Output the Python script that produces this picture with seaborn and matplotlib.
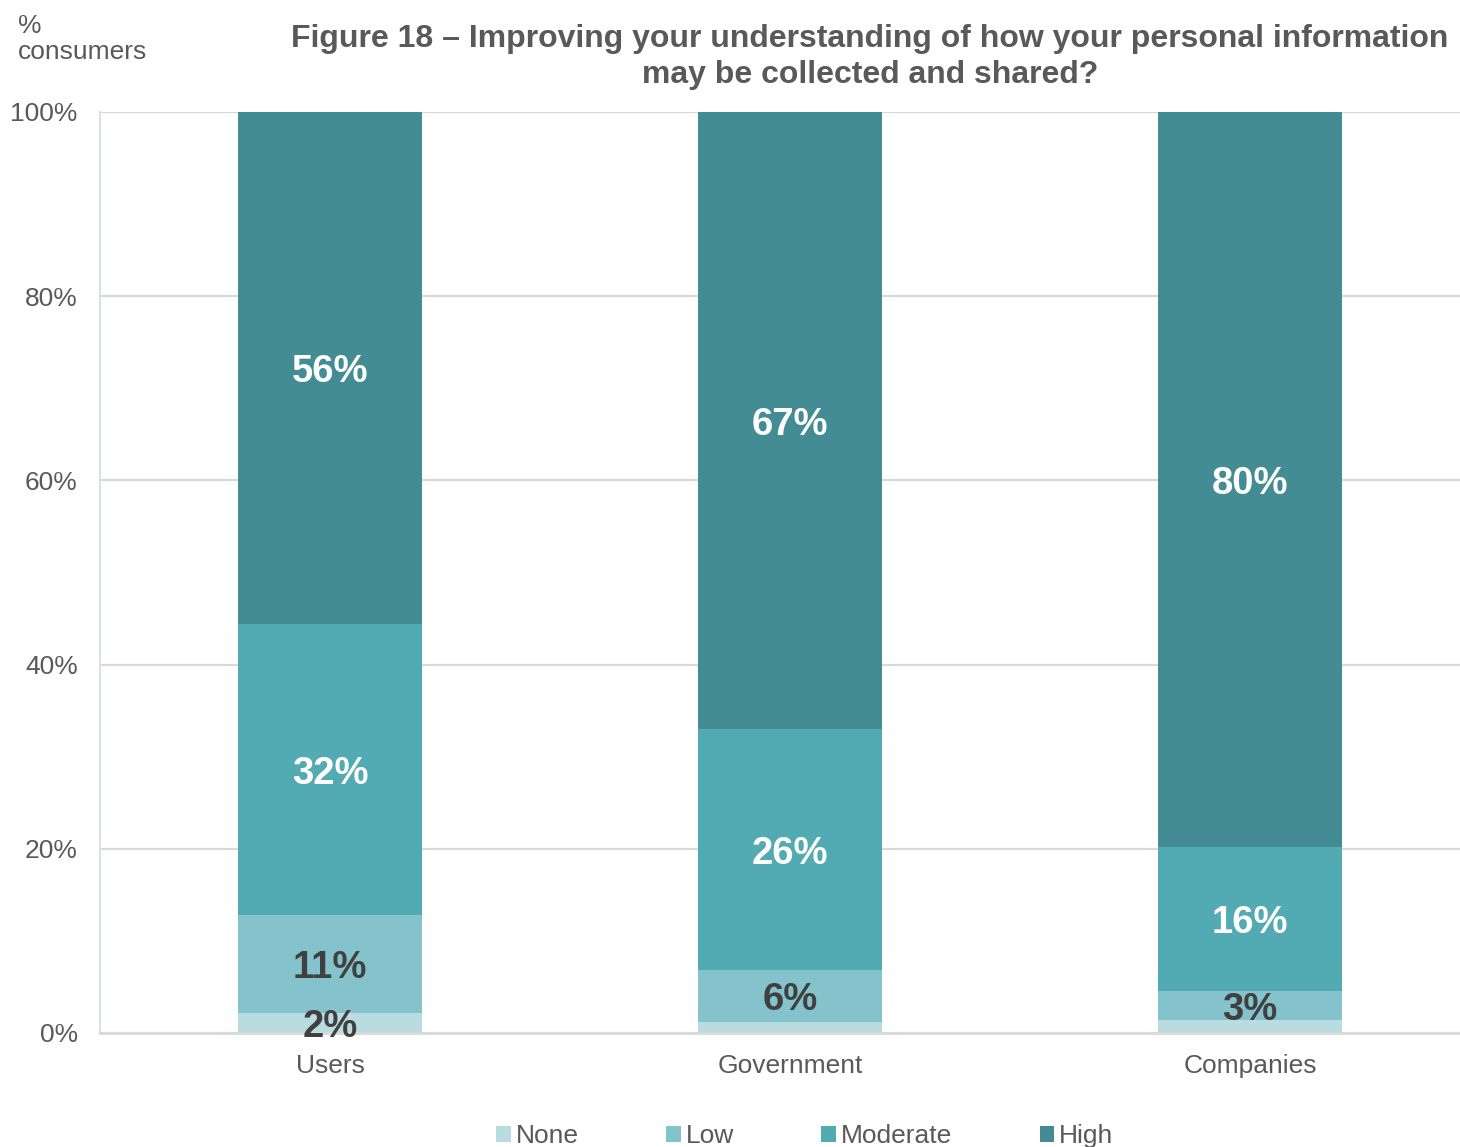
import matplotlib
matplotlib.use("Agg")
import matplotlib.pyplot as plt
from matplotlib.patches import Patch
import seaborn as sns
import pandas as pd
import numpy as np

# Survey results (% of consumers) per data holder and level of importance
categories = ["Users", "Government", "Companies"]
levels = ["None", "Low", "Moderate", "High"]
none_vals = [2.2, 1.2, 1.4]
low_vals = [10.6, 5.6, 3.2]
moderate_vals = [31.6, 26.2, 15.6]
high_vals = [55.6, 67.0, 79.8]

colors = {"None": "#B9DCE0", "Low": "#84C3CB", "Moderate": "#52AAB3", "High": "#438C94"}
label_colors = {"None": "#404040", "Low": "#404040", "Moderate": "white", "High": "white"}

sns.set_theme(style="white")
plt.rcParams["font.family"] = ["Liberation Sans", "DejaVu Sans"]

df = pd.DataFrame({"category": categories, "None": none_vals, "Low": low_vals,
                   "Moderate": moderate_vals, "High": high_vals})
cum = df[levels].cumsum(axis=1)
bottoms = cum - df[levels]

fig = plt.figure(figsize=(14.6, 11.47), dpi=100)
ax = fig.add_axes([100 / 1460, 1 - 1033 / 1147, 1 - 100 / 1460, (1033 - 112) / 1147])

# Stack by overdrawing cumulative totals, tallest first
for lvl in reversed(levels):
    sns.barplot(x=df["category"], y=cum[lvl], color=colors[lvl], width=0.4,
                saturation=1, ax=ax, zorder=3, linewidth=0)

# Segment value labels
for i, cat in enumerate(categories):
    for lvl in levels:
        v = df.loc[i, lvl]
        if v < 1.5:
            continue
        ymid = bottoms.loc[i, lvl] + v / 2
        ax.annotate(f"{v:.0f}%", xy=(i, ymid), xytext=(0, -3), textcoords="offset points",
                    ha="center", va="center", fontsize=27.5, fontweight="bold",
                    color=label_colors[lvl], zorder=5)

ax.set_xlim(-0.5, -0.5 + 1360 / 460)
ax.set_ylim(0, 100)
ax.set_yticks(np.arange(0, 101, 20))
ax.set_yticklabels([f"{t}%" for t in range(0, 101, 20)])
ax.yaxis.grid(True, color="#D9D9D9", linewidth=1.6, zorder=0)
ax.set_axisbelow(True)
ax.set_xlabel("")
ax.set_ylabel("")
ax.tick_params(axis="both", length=0, labelsize=19, colors="#595959")
ax.tick_params(axis="x", pad=15)
ax.tick_params(axis="y", pad=16)
for side in ["top", "right"]:
    ax.spines[side].set_visible(False)
ax.spines["bottom"].set_color("#D9D9D9")
ax.spines["bottom"].set_linewidth(2)
ax.spines["left"].set_color("#D6E2EA")
ax.spines["left"].set_linewidth(1.5)
ax.spines["bottom"].set_zorder(4)

fig.text(870 / 1460, 1 - 57 / 1147,
         "Figure 18 \u2013 Improving your understanding of how your personal information\nmay be collected and shared?",
         ha="center", va="center", fontsize=23, fontweight="bold", color="#595959",
         linespacing=1.22)
fig.text(18 / 1460, 1 - 39 / 1147, "%\nconsumers", ha="left", va="center",
         fontsize=19, color="#595959", linespacing=1.15)

handles = [Patch(facecolor=colors[l], edgecolor="none", label=l) for l in levels]
leg = fig.legend(handles=handles, loc="center", bbox_to_anchor=(805 / 1460, 1 - 1136 / 1147),
                 ncol=4, frameon=False, fontsize=19, handlelength=0.55, handleheight=0.55,
                 handletextpad=0.2, columnspacing=3.3, borderaxespad=0)
for t in leg.get_texts():
    t.set_color("#595959")

fig.savefig("out.png", dpi=100)
